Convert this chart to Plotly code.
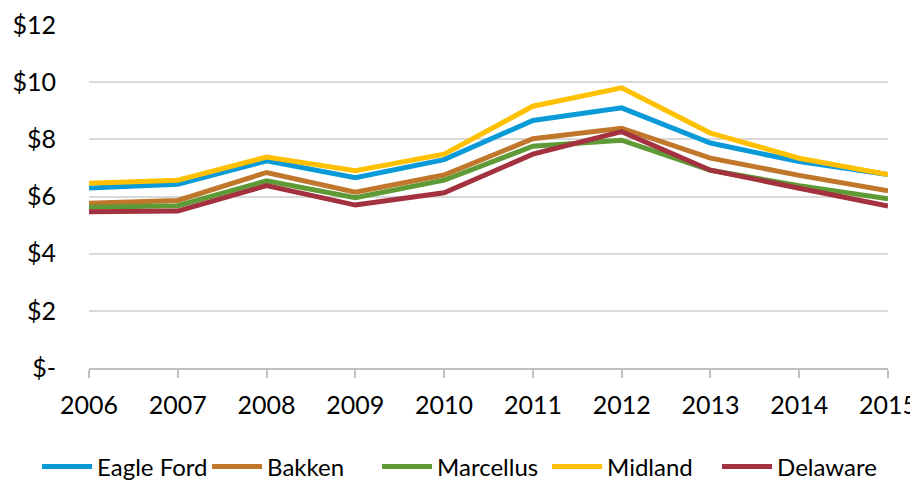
import plotly.graph_objects as go

years = [2006, 2007, 2008, 2009, 2010, 2011, 2012, 2013, 2014, 2015]
eagle_ford = [6.30, 6.43, 7.25, 6.66, 7.29, 8.66, 9.10, 7.87, 7.22, 6.77]
bakken = [5.76, 5.86, 6.84, 6.15, 6.75, 8.02, 8.39, 7.34, 6.74, 6.20]
marcellus = [5.62, 5.68, 6.55, 5.96, 6.57, 7.76, 7.97, 6.92, 6.38, 5.92]
midland = [6.46, 6.57, 7.38, 6.90, 7.48, 9.16, 9.80, 8.22, 7.34, 6.77]
delaware = [5.47, 5.49, 6.38, 5.70, 6.13, 7.48, 8.27, 6.92, 6.29, 5.67]

y_ticks = [0, 2, 4, 6, 8, 10, 12]
y_tick_labels = ["$-", "$2", "$4", "$6", "$8", "$10", "$12"]

series = [
    ("Eagle Ford", eagle_ford, "#0a9ad8"),
    ("Bakken", bakken, "#c0772c"),
    ("Marcellus", marcellus, "#5e9a35"),
    ("Midland", midland, "#ffc000"),
    ("Delaware", delaware, "#a3313f"),
]

fig = go.Figure()
for name, vals, color in series:
    fig.add_trace(go.Scatter(x=years, y=vals, name=name, mode="lines",
                             line=dict(color=color, width=5)))

# page body has an 8px margin, so the figure is 910x474 and starts at (8, 8)
fig.update_layout(
    width=910, height=474,
    margin=dict(l=81, r=30, t=17, b=114, autoexpand=False),
    paper_bgcolor="white", plot_bgcolor="white",
    font=dict(family="Lato, Open Sans, sans-serif", size=25, color="#000000"),
    showlegend=True,
    legend=dict(orientation="h", x=-0.065, xanchor="left", y=-0.288, yanchor="middle",
                font=dict(size=24), itemwidth=50, tracegroupgap=0,
                entrywidth=105, entrywidthmode="pixels",
                bgcolor="rgba(0,0,0,0)"),
)
fig.update_xaxes(
    range=[2006, 2015], tickvals=years, ticktext=[str(y) for y in years],
    showgrid=False, showline=True, linecolor="#bfbfbf", linewidth=1.5,
    ticks="outside", ticklen=8, tickcolor="#bfbfbf", tickwidth=1.5, zeroline=False,
    automargin=False, ticklabelstandoff=6, ticklabeloverflow="allow",
)
fig.update_yaxes(
    range=[0, 12], tickvals=y_ticks, ticktext=y_tick_labels,
    showgrid=True, gridcolor="#d9d9d9", gridwidth=1.5, showline=False,
    zeroline=False, ticks="", ticklabelstandoff=32, automargin=False,
)
fig.write_html("out.html")
